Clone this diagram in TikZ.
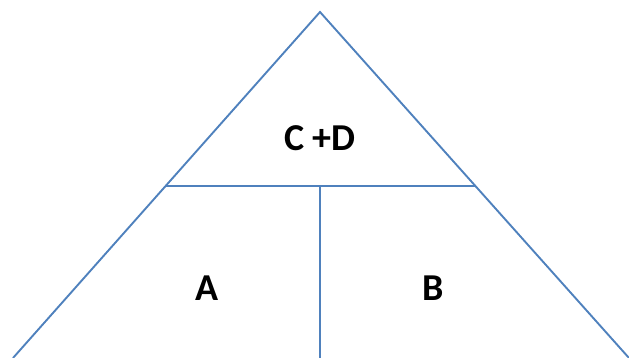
\documentclass[tikz,border=0pt]{standalone}
\usepackage{fontspec}
\setmainfont{Carlito}
\begin{document}
\begin{tikzpicture}[x=1pt,y=-1pt,
  edge/.style={draw={rgb,255:red,79;green,129;blue,189},line width=1.9pt},
  lbl/.style={font=\bfseries\fontsize{38}{42}\selectfont,inner sep=0pt,anchor=base}]
\useasboundingbox (0,0) rectangle (629,358);
\coordinate (apex) at (320,12);
\coordinate (bl) at (13,358);
\coordinate (br) at (629,358);
\coordinate (ml) at (165,186);
\coordinate (mr) at (476,186);
\coordinate (mid) at (320,186);
\coordinate (bm) at (320,358);
\draw[edge,line join=miter] (bl) -- (apex) -- (br);
\draw[edge] (ml) -- (mr);
\draw[edge] (mid) -- (bm);
\node[lbl] (cd) at (320,151) {C +D};
\node[lbl] (a) at (207,300.5) {A};
\node[lbl] (b) at (433,300.5) {B};
\end{tikzpicture}
\end{document}
